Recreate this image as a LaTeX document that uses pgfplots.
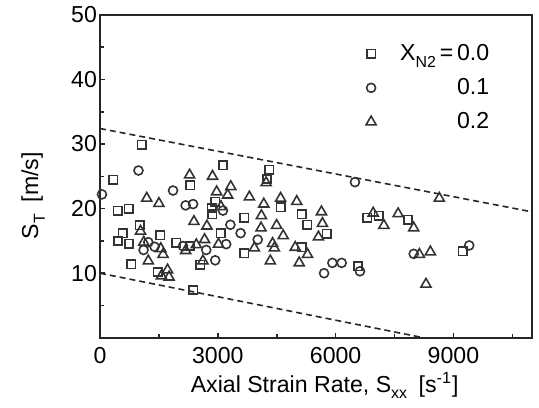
\documentclass[border=0pt]{standalone}
\usepackage{pgfplots}
\pgfplotsset{compat=1.18}
\usepackage{fontspec}
\setmainfont{Liberation Sans}

\newcommand{\lblfont}{\fontsize{11.6}{13}\selectfont}
\definecolor{markgray}{gray}{0.2}
\pgfplotsset{scatterpts/.style={only marks, markgray, line width=0.8bp}}

\begin{document}
\begin{tikzpicture}
\begin{axis}[
  scale only axis,
  width=216bp, height=161.5bp,
  xmin=0, xmax=11000, ymin=0, ymax=50,
  axis line style={line width=1bp, black!85},
  xtick={0,3000,6000,9000},
  minor xtick={1500,4500,7500,10500},
  ytick={10,20,30,40,50},
  minor ytick={5,15,25,35,45},
  tick align=inside,
  xtick pos=bottom, ytick pos=left,
  major tick length=2.6bp, minor tick length=1.8bp,
  every tick/.style={black!85, line width=0.8bp},
  scaled x ticks=false,
  /pgf/number format/1000 sep={},
  /pgf/number format/assume math mode=true,
  tick label style={font=\lblfont},
  xticklabel style={yshift=-1.5bp},
  yticklabel style={xshift=2bp},
  xlabel={Axial Strain Rate, S\raisebox{-0.55ex}{\footnotesize xx}\enspace[s\textsuperscript{-1}]},
  ylabel={S\raisebox{-0.55ex}{\footnotesize T}\enspace[m/s]},
  label style={font=\lblfont},
  xlabel style={at={(axis description cs:0.52,0)}, anchor=south, yshift=-34bp},
  ylabel style={at={(axis description cs:0,0.44)}, anchor=south, yshift=24bp},
  legend style={draw=none, fill=none, font=\lblfont,
    at={(axis description cs:0.925,0.935)}, anchor=north east,
    row sep=3.5bp,
    /tikz/every odd column/.append style={column sep=10bp}},
  legend cell align=right,
]
% X_N2 = 0.0
\addplot[scatterpts, mark=square, mark size=2.1bp] table {
x y
340 24.5
1060 29.9
3130 26.7
4310 26.0
4250 24.6
2300 23.6
450 19.7
730 20.0
2840 20.1
2940 21.1
2860 19.1
4600 20.2
5140 19.1
5280 17.5
3670 18.6
3070 16.2
1014 17.4
580 16.2
1540 15.9
460 15.0
740 14.6
800 11.4
1470 10.2
1944 14.7
2282 14.2
2553 11.3
3677 13.1
5140 14.0
5774 16.1
6568 11.1
6805 18.6
7101 18.9
7845 18.3
9231 13.4
2380 7.4
};
\addlegendentry{X\raisebox{-0.6ex}{\footnotesize N2}\,=\,0.0}
% X_N2 = 0.1
\addplot[scatterpts, mark=o, mark size=2.25bp] table {
x y
50 22.2
980 25.9
1860 22.8
2180 20.5
2370 20.7
3130 19.7
3320 17.5
3580 16.2
1230 14.8
1110 13.6
1390 14.1
2113 14.2
2705 13.6
2934 12.0
3213 14.5
4015 15.2
6492 24.1
5706 10.0
5917 11.6
6154 11.6
6619 10.3
7988 13.0
9401 14.3
};
\addlegendentry{0.1}
% X_N2 = 0.2
\addplot[scatterpts, mark=triangle, mark size=2.9bp] table {
x y
2282 25.2
2865 25.0
2970 22.6
3330 23.4
3250 22.1
4230 24.0
1190 21.6
1500 20.8
3080 20.3
3804 21.8
4170 20.7
4599 21.6
5010 21.1
4110 18.9
2392 18.0
2722 17.3
4101 17.0
4497 17.4
4666 15.8
1032 16.5
1115 14.8
1547 13.8
1606 12.9
1230 11.9
1564 9.6
1720 10.5
1758 9.4
2181 13.5
2452 14.4
2663 15.2
2621 11.9
3018 14.5
3931 13.9
4395 14.6
4440 13.9
4337 11.9
4971 14.0
5072 11.6
5284 12.9
8640 21.6
5638 19.5
5664 17.7
5562 15.6
6957 19.3
7228 17.4
7591 19.2
7988 17.0
8133 12.9
8412 13.3
8300 8.3
};
\addlegendentry{0.2}
% bounding lines of the scatter band
\addplot[sharp plot, no marks, black!85, line width=0.8bp, dash pattern=on 3bp off 2bp, forget plot] coordinates {(0,32.4) (11000,19.5)};
\addplot[sharp plot, no marks, black!85, line width=0.8bp, dash pattern=on 3bp off 2bp, forget plot] coordinates {(0,10.0) (8250,0)};
\end{axis}
\path ([xshift=-50bp,yshift=-35bp]current axis.south west) rectangle ([xshift=3.5bp,yshift=5bp]current axis.north east);
\end{tikzpicture}
\end{document}
